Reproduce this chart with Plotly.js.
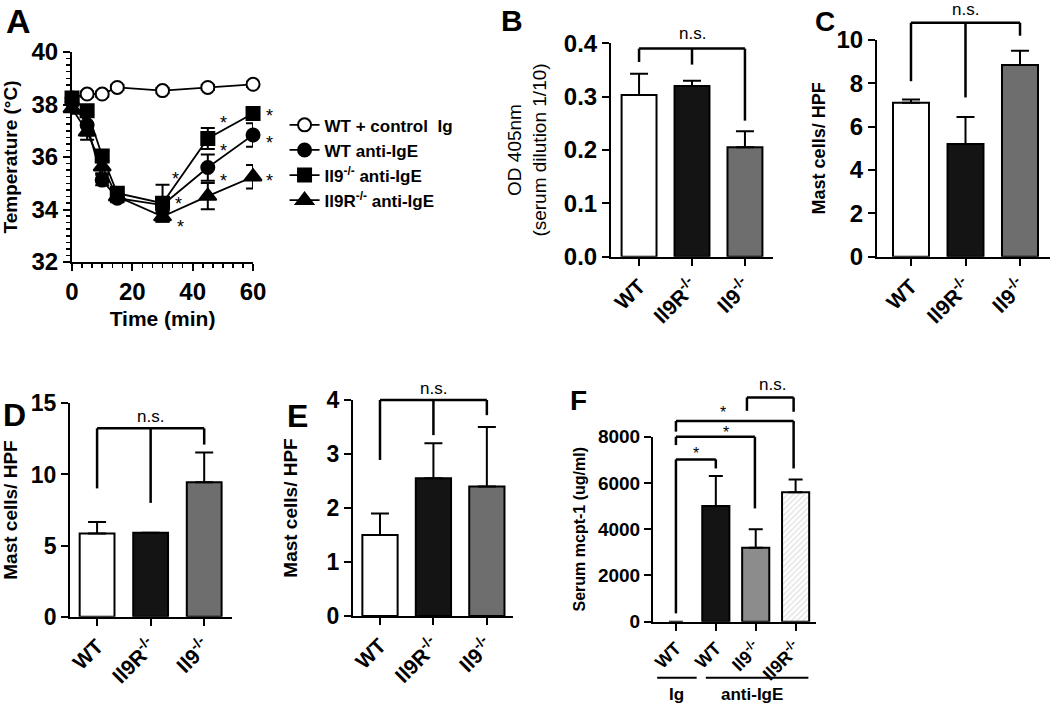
<!DOCTYPE html>
<html>
<head>
<meta charset="utf-8">
<script src="https://cdn.plot.ly/plotly-3.0.1.min.js"></script>
<style>html,body{margin:0;padding:0;background:#fff;}#chart{width:1050px;height:706px;}</style>
</head>
<body>
<div id="chart"></div>
<script>
// ---------- DATA ----------
// Panel A: temperature time course
const aTime = [0, 5, 10, 15, 30, 45, 60];
const aCtrl = [38.25, 38.4, 38.4, 38.65, 38.53, 38.65, 38.77];
const aCtrlErr = [0.1, 0.1, 0.1, 0.1, 0.1, 0.1, 0.1];
const aWT = [38.1, 37.22, 35.12, 34.43, 34.17, 35.6, 36.84];
const aWTErr = [0.15, 0.4, 0.2, 0.15, 0.3, 0.5, 0.45];
const aIl9 = [38.25, 37.76, 36.04, 34.62, 34.24, 36.71, 37.66];
const aIl9Err = [0.15, 0.15, 0.2, 0.2, 0.7, 0.4, 0.1];
const aIl9R = [37.85, 36.96, 35.63, 34.49, 33.73, 34.51, 35.25];
const aIl9RErr = [0.2, 0.3, 0.25, 0.2, 0.2, 0.5, 0.45];
const aSeriesNames = ['WT + control  Ig', 'WT anti-IgE', 'Il9<sup>-/-</sup> anti-IgE', 'Il9R<sup>-/-</sup> anti-IgE'];
// significance stars in A (time, temperature)
const aStarT = [50.2, 50.2, 50.2, 34.2, 35.3, 35.8, 65.4, 65.4, 65.4];
const aStarY = [37.44, 36.39, 35.25, 35.31, 34.36, 33.47, 37.73, 36.67, 35.23];

// Panels B–E categories
const cats3 = ['WT', 'Il9R<sup>-/-</sup>', 'Il9<sup>-/-</sup>'];
// Panel B: OD 405nm
const bVals = [0.303, 0.32, 0.205];
const bErr = [0.04, 0.01, 0.03];
// Panel C: mast cells / HPF
const cVals = [7.1, 5.2, 8.85];
const cErr = [0.15, 1.25, 0.65];
// Panel D
const dVals = [5.85, 5.9, 9.45];
const dErr = [0.8, 0, 2.1];
// Panel E
const eVals = [1.5, 2.55, 2.4];
const eErr = [0.4, 0.65, 1.1];
// Panel F: serum mcpt-1
const fCats = ['WT', 'WT', 'Il9<sup>-/-</sup>', 'Il9R<sup>-/-</sup>'];
const fVals = [0, 5000, 3200, 5600];
const fErr = [0, 1300, 800, 550];
const fGroups = ['Ig', 'anti-IgE'];

// ---------- STYLE ----------
const FONT = 'Arial, "Liberation Sans", sans-serif';
const BLACK = '#000';
const barColors3 = ['#ffffff', '#141414', '#6e6e6e'];

function baseAxis(extra, tsize) {
  return Object.assign({
    showline: true, linecolor: BLACK, linewidth: 2,
    ticks: 'outside', ticklen: 7, tickwidth: 2, tickcolor: BLACK,
    showgrid: false, zeroline: false, fixedrange: true,
    tickfont: {family: FONT, size: tsize || 24, weight: 'bold', color: BLACK}
  }, extra);
}
function catAxis(domain, range, anchor, labels, size) {
  return baseAxis({
    domain: domain, range: range, anchor: anchor,
    tickvals: labels.map((_, i) => i), ticktext: labels, tickangle: -45
  }, size);
}
function barTrace(xa, ya, vals, errs, colors, width, lineWidths) {
  return {
    type: 'bar', x: vals.map((_, i) => i), y: vals, xaxis: xa, yaxis: ya,
    width: width, showlegend: false,
    marker: {color: colors, line: {color: BLACK, width: lineWidths || 2}},
    error_y: {type: 'data', symmetric: false, array: errs, arrayminus: errs.map(() => 0),
      color: BLACK, thickness: 2, width: 9},
    hoverinfo: 'skip'
  };
}

const traces = [];
// Panel A
const aSeries = [
  {y: aCtrl, e: aCtrlErr, sym: 'circle', fill: '#ffffff'},
  {y: aWT, e: aWTErr, sym: 'circle', fill: BLACK},
  {y: aIl9, e: aIl9Err, sym: 'square', fill: BLACK},
  {y: aIl9R, e: aIl9RErr, sym: 'triangle-up', fill: BLACK}
];
aSeries.forEach((s, i) => {
  traces.push({
    type: 'scatter', mode: 'lines+markers', x: aTime, y: s.y, xaxis: 'x', yaxis: 'y',
    name: aSeriesNames[i], cliponaxis: false,
    line: {color: BLACK, width: 1.8},
    marker: {symbol: s.sym, size: i === 3 ? 15 : 13, color: s.fill, line: {color: BLACK, width: 2}},
    error_y: {type: 'data', array: s.e, color: BLACK, thickness: 2, width: 7}
  });
});
// Panels B-E
traces.push(barTrace('x2', 'y2', bVals, bErr, barColors3, 0.66));
traces.push(barTrace('x3', 'y3', cVals, cErr, barColors3, 0.66));
traces.push(barTrace('x4', 'y4', dVals, dErr, barColors3, 0.65));
traces.push(barTrace('x5', 'y5', eVals, eErr, barColors3, 0.66));
// Panel F
const fTrace = barTrace('x6', 'y6', fVals, fErr, ['#ffffff', '#141414', '#8c8c8c', '#e2e2e2'], 0.68, [0, 2, 2, 2]);
fTrace.marker.pattern = {shape: ['', '', '', '/'], fgcolor: '#4a4a4a', bgcolor: '#e2e2e2', size: 4, solidity: 0.35};
fTrace.error_y.width = 7;
traces.push(fTrace);

// ---------- BRACKETS & LABELS ----------
const shapes = [];
const annotations = [];
function vline(xa, ya, x, y0, y1) {
  shapes.push({type: 'line', xref: xa, yref: ya + ' domain', x0: x, x1: x, y0: y0, y1: y1,
    line: {color: BLACK, width: 2.5}});
}
function hline(xa, ya, x0, x1, y) {
  shapes.push({type: 'line', xref: xa, yref: ya + ' domain', x0: x0, x1: x1, y0: y, y1: y,
    line: {color: BLACK, width: 2.5}});
}
function bracket(xa, ya, ymax, top, legs) {
  const f = v => v / ymax;
  hline(xa, ya, legs[0][0], legs[legs.length - 1][0], f(top));
  legs.forEach(l => vline(xa, ya, l[0], f(l[1]), f(top)));
}
function label(xa, ya, ymax, x, y, text, size, yshift) {
  annotations.push({xref: xa, yref: ya + ' domain', x: x, y: y / ymax, text: text, showarrow: false,
    font: {family: FONT, size: size, color: BLACK}, xanchor: 'center', yanchor: 'middle', yshift: yshift || 0});
}
bracket('x2', 'y2', 0.4, 0.39, [[0, 0.365], [1, 0.36], [2, 0.255]]);
label('x2', 'y2', 0.4, 1, 0.418, 'n.s.', 17);
bracket('x3', 'y3', 10, 10.8, [[0, 8.1], [1, 7.35], [2, 10.2]]);
label('x3', 'y3', 10, 1, 11.4, 'n.s.', 17);
bracket('x4', 'y4', 15, 13.24, [[0, 9.02], [1, 8.0], [2, 12.1]]);
label('x4', 'y4', 15, 1, 14.05, 'n.s.', 17);
bracket('x5', 'y5', 4, 4.0, [[0, 2.89], [1, 3.35], [2, 3.72]]);
label('x5', 'y5', 4, 1, 4.22, 'n.s.', 17);
bracket('x6', 'y6', 8000, 7020, [[0, 360], [1, 6630]]);
bracket('x6', 'y6', 8000, 8000, [[0, 7640], [1.98, 4900]]);
bracket('x6', 'y6', 8000, 8680, [[0, 8220], [2.95, 6630]]);
bracket('x6', 'y6', 8000, 9700, [[1.78, 9120], [2.95, 9080]]);
label('x6', 'y6', 8000, 0.5, 7450, '*', 16, -4);
label('x6', 'y6', 8000, 1.25, 8350, '*', 16, -4);
label('x6', 'y6', 8000, 1.18, 9220, '*', 16, -4);
label('x6', 'y6', 8000, 2.43, 10250, 'n.s.', 17);
// A stars (x as fraction of the 0–60 min axis)
aStarT.forEach((t, i) => annotations.push({xref: 'x domain', yref: 'y', x: t / 60, y: aStarY[i], text: '*',
  showarrow: false, xanchor: 'center', yanchor: 'middle', yshift: -4,
  font: {family: FONT, size: 18, color: BLACK}}));
// F group lines and labels
shapes.push({type: 'line', xref: 'x6', yref: 'paper', x0: -0.47, x1: 0.52, y0: 0.040, y1: 0.040, line: {color: BLACK, width: 2}});
shapes.push({type: 'line', xref: 'x6', yref: 'paper', x0: 0.75, x1: 3.32, y0: 0.040, y1: 0.040, line: {color: BLACK, width: 2}});
annotations.push({xref: 'x6', yref: 'paper', x: 0.02, y: 1 - 683 / 706, yanchor: 'top', text: fGroups[0], showarrow: false,
  font: {family: FONT, size: 17, weight: 'bold', color: BLACK}});
annotations.push({xref: 'x6', yref: 'paper', x: 1.9, y: 1 - 683 / 706, yanchor: 'top', text: fGroups[1], showarrow: false,
  font: {family: FONT, size: 17, weight: 'bold', color: BLACK}});

// Panel letters
[['A', 18, 21, 34], ['B', 512, 20, 30], ['C', 825, 21, 28], ['D', 14, 415, 32], ['E', 297, 416, 32], ['F', 578, 400, 28]]
  .forEach(p => annotations.push({xref: 'paper', yref: 'paper', x: p[1] / 1050, y: 1 - p[2] / 706,
    text: p[0], showarrow: false, xanchor: 'center', yanchor: 'middle',
    font: {family: FONT, size: p[3], weight: 'bold', color: BLACK}}));

const titleFont = (size, w) => ({family: FONT, size: size, weight: w, color: BLACK});

const layout = {
  width: 1050, height: 706, margin: {l: 0, r: 0, t: 0, b: 0},
  paper_bgcolor: '#fff', plot_bgcolor: 'rgba(0,0,0,0)',
  font: {family: FONT, color: BLACK},
  showlegend: true,
  legend: {x: 0.271, y: 0.848, xanchor: 'left', yanchor: 'top', bgcolor: 'rgba(0,0,0,0)',
    font: {family: FONT, size: 17, weight: 'bold', color: BLACK}, tracegroupgap: 0, itemwidth: 30},
  xaxis: baseAxis({domain: [0.0686, 0.2410], range: [0, 60], anchor: 'y', dtick: 20,
    minor: {ticks: 'outside', ticklen: 4, tickwidth: 1.5, tickcolor: BLACK, dtick: 10 / 3, showgrid: false},
    title: {text: 'Time (min)', font: titleFont(21, 'bold'), standoff: 8}}, 24),
  yaxis: baseAxis({domain: [0.6289, 0.9263], range: [32, 40], anchor: 'x', dtick: 2,
    minor: {ticks: 'outside', ticklen: 4, tickwidth: 1.5, tickcolor: BLACK, dtick: 0.25, showgrid: false},
    title: {text: 'Temperature (°C)', font: titleFont(19, 'bold'), standoff: 10}}, 24),
  xaxis2: catAxis([0.5819, 0.7362], [-0.53, 2.53], 'y2', cats3, 21),
  yaxis2: baseAxis({domain: [0.6364, 0.9387], range: [0, 0.4], anchor: 'x2', dtick: 0.1, tickformat: '.1f',
    title: {text: 'OD 405nm<br>(serum dilution 1/10)', font: titleFont(19, 'normal'), standoff: 12}}, 24),
  xaxis3: catAxis([0.8352, 1.0], [-0.624, 2.55], 'y3', cats3, 21),
  yaxis3: baseAxis({domain: [0.6364, 0.9433], range: [0, 10], anchor: 'x3', dtick: 2,
    title: {text: 'Mast cells/ HPF', font: titleFont(18, 'bold'), standoff: 6}}, 24),
  xaxis4: catAxis([0.0667, 0.2210], [-0.505, 2.52], 'y4', cats3, 21),
  yaxis4: baseAxis({domain: [0.1265, 0.4287], range: [0, 15], anchor: 'x4', dtick: 5,
    title: {text: 'Mast cells/ HPF', font: titleFont(19, 'bold'), standoff: 9}}, 23),
  xaxis5: catAxis([0.3362, 0.4886], [-0.505, 2.49], 'y5', cats3, 21),
  yaxis5: baseAxis({domain: [0.1275, 0.4334], range: [0, 4], anchor: 'x5', dtick: 1,
    title: {text: 'Mast cells/ HPF', font: titleFont(19, 'bold'), standoff: 24}}, 23),
  xaxis6: catAxis([0.6219, 0.7771], [-0.575, 3.51], 'y6', fCats, 18),
  yaxis6: baseAxis({domain: [0.1194, 0.3814], range: [0, 8000], anchor: 'x6', dtick: 2000,
    title: {text: 'Serum mcpt-1 (ug/ml)', font: titleFont(16, 'bold'), standoff: 8}}, 19),
  shapes: shapes,
  annotations: annotations
};

Plotly.newPlot('chart', traces, layout, {displayModeBar: false, staticPlot: true});
</script>
</body>
</html>
